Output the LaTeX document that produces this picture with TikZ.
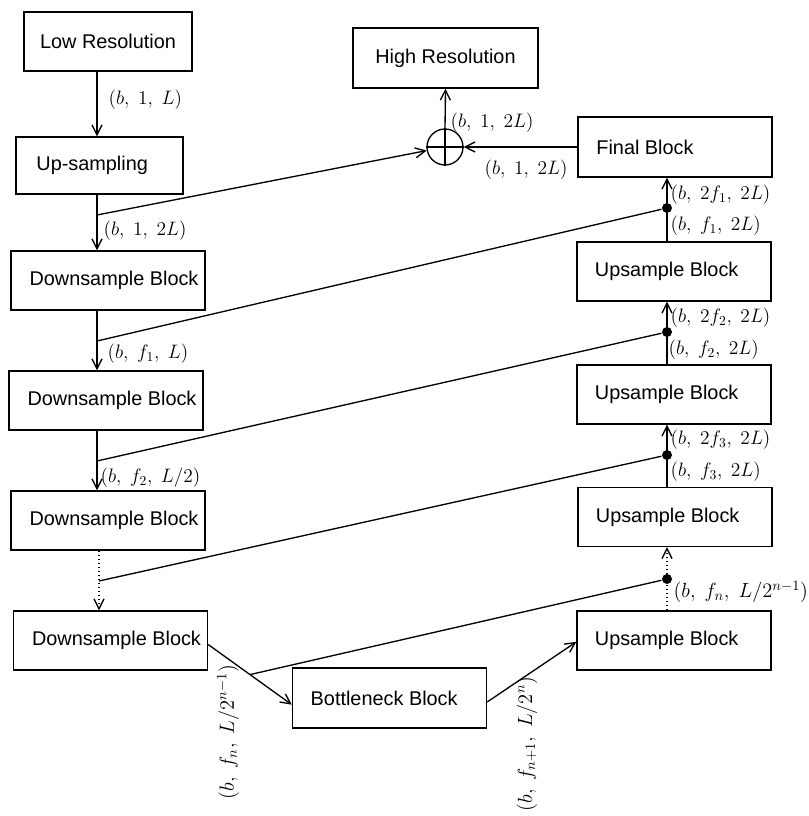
\RequirePackage{fix-cm}
\documentclass[tikz,border=0pt]{standalone}
\usepackage{fontspec}
\setmainfont{Liberation Sans}
\usetikzlibrary{arrows.meta,calc}
\begin{document}
\begin{tikzpicture}[x=0.75pt,y=-0.75pt,
  line width=1pt,
  box/.style={draw,line width=1pt,inner sep=0pt,minimum width=145.5pt,minimum height=44.25pt,font=\fontsize{14.9}{18}\selectfont},
  lbl/.style={inner sep=0pt,anchor=west,font=\fontsize{14.6}{17}\selectfont},
  rlbl/.style={inner sep=0pt,rotate=90,font=\fontsize{15.4}{17}\selectfont},
  arr/.style={-{Straight Barb[length=7.5pt,width=7.5pt]}},
  dot/.style={circle,fill,inner sep=0pt,minimum size=7.5pt},
]
\useasboundingbox (0,0) rectangle (808,816);
% boxes
\node[box,minimum width=126pt] (lr) at (108,41.5) {Low Resolution};
\node[box,minimum width=125.25pt,minimum height=42.75pt] (up) at (99.5,165.5) {Up-sampling\hspace*{11pt}};
\node[box] (ds1) at (108,280.5) {\hspace*{9pt}Downsample Block};
\node[box] (ds2) at (106,400.5) {\hspace*{9pt}Downsample Block};
\node[box] (ds3) at (108,520.5) {\hspace*{9pt}Downsample Block};
\node[box] (ds4) at (110.5,640.5) {\hspace*{9pt}Downsample Block};
\node[box,minimum height=45pt] (bn) at (389.5,698) {Bottleneck Block\hspace*{8pt}};
\node[box] (usn) at (674,640.5) {Upsample Block\hspace*{11pt}};
\node[box] (us3) at (675,517) {Upsample Block\hspace*{11pt}};
\node[box] (us2) at (674,394.5) {Upsample Block\hspace*{11pt}};
\node[box] (us1) at (674,271.5) {Upsample Block\hspace*{11pt}};
\node[box,minimum height=45pt] (fb) at (675,147) {Final Block\hspace*{45pt}};
\node[box,minimum width=138.75pt,minimum height=45pt] (hr) at (445.5,58) {High Resolution};
\node[circle,draw,minimum size=27pt,inner sep=0pt] (sum) at (445,147) {};
\draw (sum.north) -- (sum.south) (sum.west) -- (sum.east);
% columns and branch points
\coordinate (cl) at (97,0);
\coordinate (cd) at (99,0);
\coordinate (cr) at (667,0);
\coordinate (b0) at (97,215);
\coordinate (b1) at (97,341);
\coordinate (b2) at (97,461);
\coordinate (b3) at (99,581);
\node[dot] (d1) at (667,208) {};
\node[dot] (d2) at (667,332) {};
\node[dot] (d3) at (667,455) {};
\node[dot] (d4) at (667,579) {};
% left column
\draw[arr] (lr.south -| cl) -- (up.north -| cl);
\draw[arr] (up.south -| cl) -- (ds1.north -| cl);
\draw[arr] (ds1.south -| cl) -- (ds2.north -| cl);
\draw[arr] (ds2.south -| cl) -- (ds3.north -| cl);
\draw[arr,dotted] (ds3.south -| cd) -- (ds4.north -| cd);
% right column
\draw[arr] (us1.north -| cr) -- (fb.south -| cr);
\draw[arr] (us2.north -| cr) -- (us1.south -| cr);
\draw[arr] (us3.north -| cr) -- (us2.south -| cr);
\draw[arr,dotted] (usn.north -| cr) -- (us3.south -| cr);
% top
\draw[arr] (sum.north) -- (hr.south);
\draw[arr] (fb.west) -- (sum.east);
% bottom
\draw[arr] ([yshift=-3pt]ds4.east) -- ([yshift=-5pt]bn.west);
\draw[arr] ([yshift=-3pt]bn.east) -- ([yshift=-1pt]usn.west);
\coordinate (b4) at ($([yshift=-3pt]ds4.east)!0.5!([yshift=-5pt]bn.west)$);
% skips
\draw[arr] (b0) -- (sum);
\draw (b1) -- (d1);
\draw (b2) -- (d2);
\draw (b3) -- (d3);
\draw (b4) -- (d4);
% labels
\node[lbl] (l1) at (108,100) {$(b,\ 1,\ L)$};
\node[lbl] (l2) at (103,231) {$(b,\ 1,\ 2L)$};
\node[lbl] (l3) at (107,354) {$(b,\ f_1,\ L)$};
\node[lbl] (l4) at (100,478) {$(b,\ f_2,\ L/2)$};
\node[lbl] (l5) at (450,123) {$(b,\ 1,\ 2L)$};
\node[lbl] (l6) at (484,170) {$(b,\ 1,\ 2L)$};
\node[lbl] (l7) at (670,195) {$(b,\ 2f_1,\ 2L)$};
\node[lbl] (l8) at (670,226) {$(b,\ f_1,\ 2L)$};
\node[lbl] (l9) at (670,318) {$(b,\ 2f_2,\ 2L)$};
\node[lbl] (l10) at (668,350) {$(b,\ f_2,\ 2L)$};
\node[lbl] (l11) at (670,440) {$(b,\ 2f_3,\ 2L)$};
\node[lbl] (l12) at (670,472) {$(b,\ f_3,\ 2L)$};
\node[lbl,font=\fontsize{15.4}{17}\selectfont] (l13) at (673,592) {$\bigl(b,\ f_n,\ L/2^{n-1}\bigr)$};
\node[rlbl] (l14) at (228,732) {$\bigl(b,\ f_n,\ L/2^{n-1}\bigr)$};
\node[rlbl] (l15) at (527,744) {$\bigl(b,\ f_{n+1},\ L/2^n\bigr)$};
\end{tikzpicture}
\end{document}
